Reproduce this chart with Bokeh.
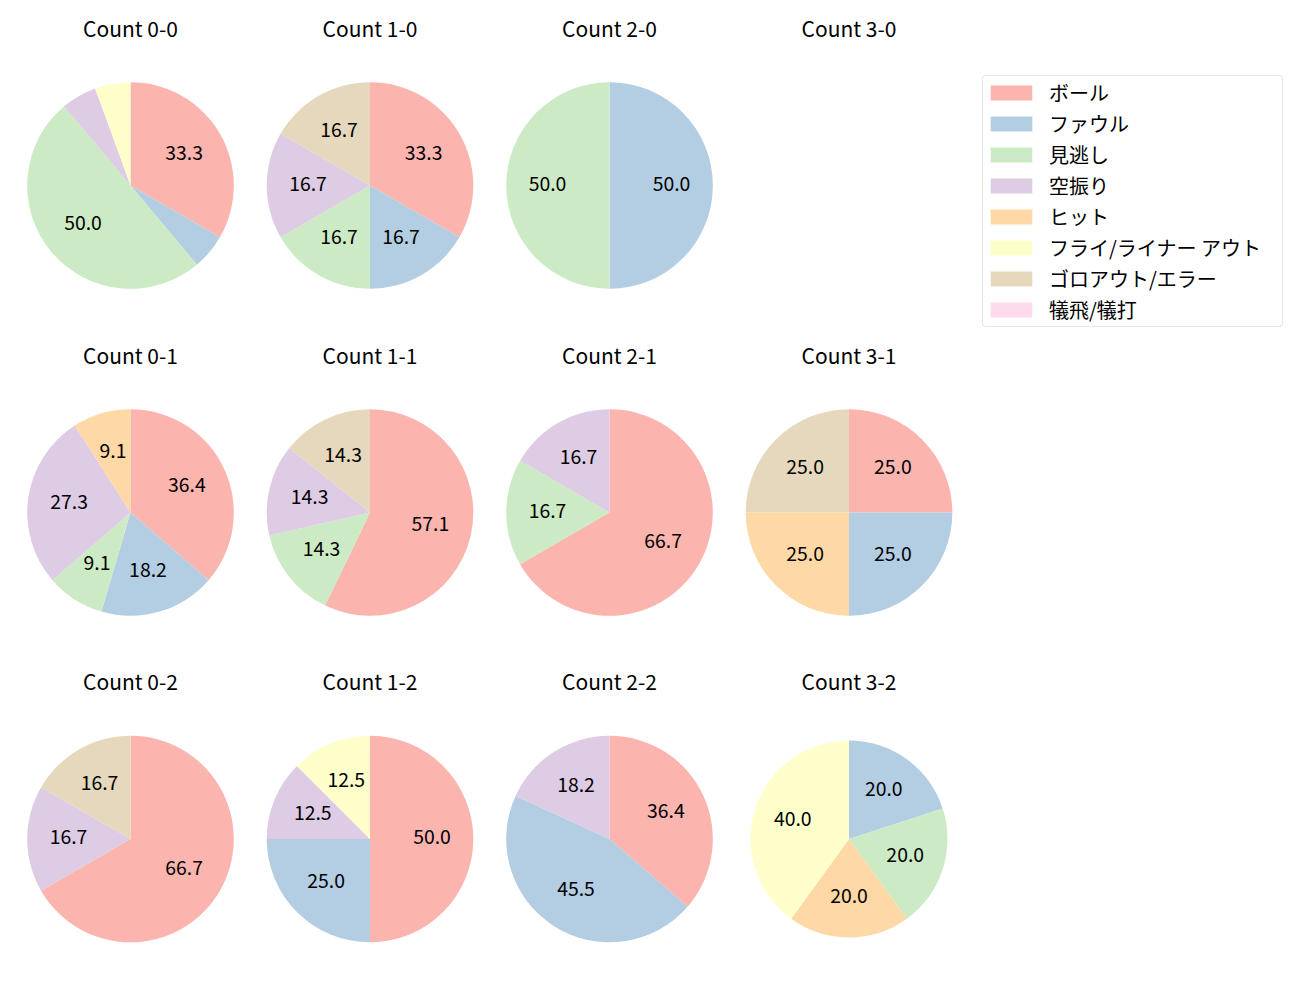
import numpy as np
from bokeh.plotting import figure
from bokeh.models import Range1d, Legend, LegendItem, ColumnDataSource
from bokeh.core.properties import value
from bokeh.embed import file_html
from bokeh.resources import INLINE

# ---- data ----
categories = ["ボール", "ファウル", "見逃し", "空振り", "ヒット",
              "フライ/ライナー アウト", "ゴロアウト/エラー", "犠飛/犠打"]
colors = ["#fbb4ae", "#b3cde3", "#ccebc5", "#decbe4", "#fed9a6",
          "#ffffcc", "#e5d8bd", "#fddaec"]

titles = ["Count 0-0", "Count 1-0", "Count 2-0", "Count 3-0",
          "Count 0-1", "Count 1-1", "Count 2-1", "Count 3-1",
          "Count 0-2", "Count 1-2", "Count 2-2", "Count 3-2"]

# pitch counts per category (order as in categories)
count_0_0 = [6, 1, 9, 1, 0, 1, 0, 0]
count_1_0 = [2, 1, 1, 1, 0, 0, 1, 0]
count_2_0 = [0, 1, 1, 0, 0, 0, 0, 0]
count_3_0 = [0, 0, 0, 0, 0, 0, 0, 0]
count_0_1 = [4, 2, 1, 3, 1, 0, 0, 0]
count_1_1 = [4, 0, 1, 1, 0, 0, 1, 0]
count_2_1 = [4, 0, 1, 1, 0, 0, 0, 0]
count_3_1 = [1, 1, 0, 0, 1, 0, 1, 0]
count_0_2 = [4, 0, 0, 1, 0, 0, 1, 0]
count_1_2 = [4, 2, 0, 1, 0, 1, 0, 0]
count_2_2 = [4, 5, 0, 2, 0, 0, 0, 0]
count_3_2 = [0, 1, 1, 0, 1, 2, 0, 0]

all_counts = [count_0_0, count_1_0, count_2_0, count_3_0,
              count_0_1, count_1_1, count_2_1, count_3_1,
              count_0_2, count_1_2, count_2_2, count_3_2]

# ---- layout (pixel positions, data y = 1000 - screen y) ----
col_x = [130.0, 369.5, 609.0, 848.5]
row_y = [1000 - 185.0, 1000 - 512.0, 1000 - 838.5]
title_y = [1000 - 29.0, 1000 - 356.0, 1000 - 682.0]
radii = [103.3] * 11 + [98.5]

FONT = "Noto Sans CJK JP"
LABEL_SIZE = "19.4px"
TITLE_SIZE = "21px"

W, H = 1284, 984
p = figure(width=W, height=H, output_backend="svg", toolbar_location=None,
           x_range=Range1d(0, W), y_range=Range1d(1000 - H, 1000),
           min_border=0, outline_line_color=None)
p.axis.visible = False
p.grid.visible = False
p.background_fill_color = "white"

for i, counts in enumerate(all_counts):
    r, c = divmod(i, 4)
    cx, cy, rad = col_x[c], row_y[r], radii[i]
    vals = np.array(counts, dtype=float)
    tot = vals.sum()
    if tot > 0:
        frac = vals / tot
        cum = np.concatenate([[0.0], np.cumsum(frac)])
        start = 90.0 - cum[1:] * 360.0
        end = 90.0 - cum[:-1] * 360.0
        keep = vals > 0
        src = ColumnDataSource(dict(
            start=start[keep], end=end[keep],
            color=[colors[k] for k in range(8) if keep[k]]))
        p.wedge(x=cx, y=cy, radius=rad, start_angle="start", end_angle="end",
                start_angle_units="deg", end_angle_units="deg",
                direction="anticlock", fill_color="color", line_color=None,
                source=src)
        mid = np.deg2rad((start + end) / 2.0)
        pct = frac * 100.0
        show = pct >= 7.0
        lsrc = ColumnDataSource(dict(
            x=(cx + 0.6 * rad * np.cos(mid))[show],
            y=(cy + 0.6 * rad * np.sin(mid))[show],
            t=["%.1f" % v for v in pct[show]]))
        p.text(x="x", y="y", text="t", source=lsrc, text_align="center",
               text_baseline="middle", text_font=value(FONT), y_offset=-2.5,
               text_font_size=LABEL_SIZE, text_color="#000000")
    p.text(x=[cx], y=[title_y[r]], text=[titles[i]], text_align="center",
           text_baseline="middle", text_font=value(FONT), y_offset=-2,
           text_font_size=TITLE_SIZE, text_color="#000000")

# legend (proxy renderers with no visible points)
items = []
for k, cat in enumerate(categories):
    rr = p.rect(x=[np.nan], y=[np.nan], width=1, height=1,
                fill_color=colors[k], line_color=None)
    items.append(LegendItem(label=cat, renderers=[rr]))

legend = Legend(items=items, location=(982, H - 327), orientation="vertical",
                glyph_width=52, glyph_height=19, label_height=20, spacing=2,
                padding=2, margin=0, label_standoff=12, label_width=231,
                label_text_font=FONT, label_text_font_size="20px",
                label_text_color="#000000",
                border_line_color="#d0d0d0", border_line_width=1,
                border_radius=4,
                background_fill_color="white", background_fill_alpha=1.0)
p.add_layout(legend, "center")

open("out.html", "w").write(file_html(p, INLINE))
